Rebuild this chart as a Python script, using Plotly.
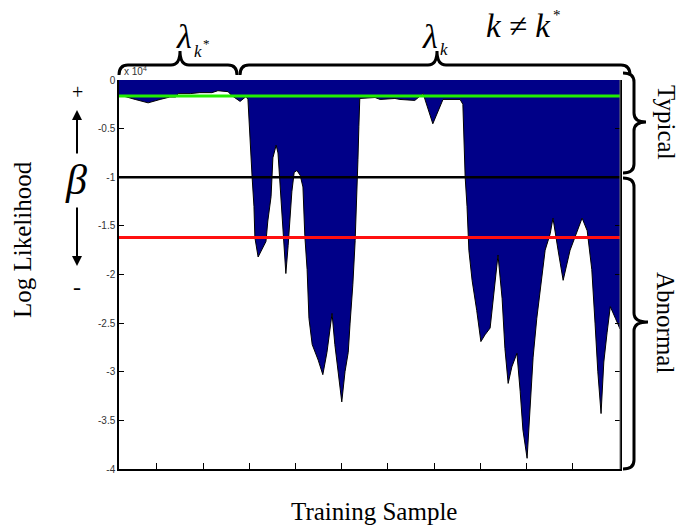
import plotly.graph_objects as go

# Training-sample index and log likelihood (in units of 10^4)
sample = [0, 13, 35, 63, 89, 110, 123, 128, 154, 175, 201, 214, 236, 244, 262, 275,
          279, 283, 288, 292, 294, 301, 309, 318, 322, 329, 333, 340, 344, 348, 353,
          357, 361, 366, 370, 374, 379, 385, 392, 398, 402, 407, 411, 418, 431, 441,
          450, 461, 467, 474, 482, 489, 496, 500, 506, 511, 515, 517, 519, 521, 554,
          565, 597, 608, 640, 658, 679, 701, 738, 744, 749, 753, 757, 764, 774, 783,
          792, 803, 820, 829, 835, 842, 850, 861, 868, 874, 883, 889, 896, 904, 911,
          922, 933, 939, 950, 961, 976, 991, 1002, 1013, 1023, 1030, 1036, 1043, 1049,
          1056, 1063, 1074, 1082, 1084]
loglik = [-0.165, -0.17, -0.2, -0.235, -0.2, -0.175, -0.175, -0.14, -0.14, -0.13,
          -0.13, -0.11, -0.12, -0.16, -0.22, -0.17, -0.2, -0.6, -1.0, -1.3, -1.62,
          -1.82, -1.74, -1.66, -1.45, -1.2, -0.8, -0.67, -0.75, -1.05, -1.45, -1.7,
          -1.99, -1.7, -1.45, -1.15, -0.95, -0.93, -0.98, -1.1, -1.6, -1.95, -2.45,
          -2.72, -2.88, -3.03, -2.8, -2.4, -2.72, -3.0, -3.31, -3.0, -2.8, -2.5, -2.1,
          -1.65, -1.2, -0.82, -0.48, -0.19, -0.18, -0.2, -0.19, -0.2, -0.21, -0.14,
          -0.45, -0.2, -0.2, -0.25, -1.0, -1.3, -1.75, -2.06, -2.37, -2.69, -2.62,
          -2.55, -1.8, -2.25, -2.76, -3.12, -2.95, -2.81, -3.2, -3.6, -3.89, -3.4,
          -2.85, -2.45, -2.16, -1.75, -1.58, -1.42, -1.75, -2.06, -1.75, -1.55, -1.42,
          -1.55, -1.95, -2.5, -3.0, -3.43, -2.9, -2.6, -2.33, -2.45, -2.55, -2.56]

# Decision thresholds (units of 10^4)
typical_level = -0.165
beta_level = -1.0
abnormal_level = -1.62

y_tick_vals = [0, -0.5, -1, -1.5, -2, -2.5, -3, -3.5, -4]
y_tick_text = ["0", "-0.5", "-1", "-1.5", "-2", "-2.5", "-3", "-3.5", "-4"]
x_tick_vals = [82, 182, 282, 382, 482, 582, 682, 782, 882, 982]

W, H = 686, 529
L, R, T, B = 119, 620, 80, 469

SERIF = "Times New Roman, Liberation Serif, serif"
SANS = "Arial, Liberation Sans, sans-serif"


def px(x):
    return (x - L) / (R - L)


def py(y):
    return (B - y) / (B - T)


def pt(x, y):
    return f"{px(x):.5f},{py(y):.5f}"


def hbrace(x0, x1, xm, y_end, y_body, y_tip, r=9):
    return (f"M {pt(x0, y_end)} Q {pt(x0, y_body)} {pt(x0 + r, y_body)} "
            f"L {pt(xm - r, y_body)} Q {pt(xm, y_body)} {pt(xm, y_tip)} "
            f"Q {pt(xm, y_body)} {pt(xm + r, y_body)} "
            f"L {pt(x1 - r, y_body)} Q {pt(x1, y_body)} {pt(x1, y_end)}")


def vbrace(y0, y1, ym, x_end, x_body, x_tip, r=9):
    return (f"M {pt(x_end, y0)} Q {pt(x_body, y0)} {pt(x_body, y0 + r)} "
            f"L {pt(x_body, ym - r)} Q {pt(x_body, ym)} {pt(x_tip, ym)} "
            f"Q {pt(x_body, ym)} {pt(x_body, ym + r)} "
            f"L {pt(x_body, y1 - r)} Q {pt(x_body, y1)} {pt(x_end, y1)}")


fig = go.Figure()
fig.add_trace(go.Scatter(
    x=sample, y=loglik, mode="lines", fill="tozeroy",
    fillcolor="#000088", line=dict(color="black", width=1),
    hoverinfo="skip", showlegend=False))

fig.add_hline(y=typical_level, line=dict(color="#22ee00", width=3))
fig.add_hline(y=beta_level, line=dict(color="black", width=2.5))
fig.add_hline(y=abnormal_level, line=dict(color="#ff1010", width=3))

brace_style = dict(type="path", xref="paper", yref="paper",
                   line=dict(color="black", width=3), layer="above")
fig.add_shape(path=hbrace(119, 237, 180, 75, 65, 51), **brace_style)
fig.add_shape(path=hbrace(240, 630, 437, 75, 65, 51), **brace_style)
fig.add_shape(path=vbrace(73, 173, 122, 623, 634, 646), **brace_style)
fig.add_shape(path=vbrace(178, 469, 322, 623, 634, 648), **brace_style)


def label(x, y, text, size, family=SERIF, angle=0, color="black", xanchor="center",
          yanchor="middle"):
    fig.add_annotation(x=px(x), y=py(y), xref="paper", yref="paper", text=text,
                       showarrow=False, textangle=angle, xanchor=xanchor,
                       yanchor=yanchor, font=dict(family=family, size=size, color=color))


# brace labels
label(184, 36, "<i>λ</i>", 34)
label(198, 52, "<i>k</i>", 17)
label(206, 43, "*", 13)
label(430, 36, "<i>λ</i>", 34)
label(444, 49, "<i>k</i>", 17)
label(518, 26, "<i>k</i> ≠ <i>k</i>", 33)
label(557, 15, "*", 15)
label(666, 122, "Typical", 25, angle=90)
label(666, 322, "Abnormal", 25, angle=90)

# axis titles
label(23, 240, "Log Likelihood", 25, angle=-90)
label(374, 511, "Training Sample", 25)

# beta direction marker
label(76, 180, "<i>β</i>", 42)
label(77, 92, "+", 20)
label(77, 287, "-", 24)
fig.add_annotation(x=px(77), y=py(110), xref="paper", yref="paper", ax=0, ay=45,
                   text="", showarrow=True, arrowhead=2, arrowsize=1, arrowwidth=2,
                   arrowcolor="black")
fig.add_annotation(x=px(77), y=py(266), xref="paper", yref="paper", ax=0, ay=-60,
                   text="", showarrow=True, arrowhead=2, arrowsize=1, arrowwidth=2,
                   arrowcolor="black")

# exponent multiplier
label(122, 79, "x 10<sup>4</sup>", 10, family=SANS, color="#333333", xanchor="left",
      yanchor="bottom")

fig.update_layout(
    width=W, height=H, margin=dict(l=L, r=W - R, t=T, b=H - B),
    paper_bgcolor="white", plot_bgcolor="white", showlegend=False,
    xaxis=dict(range=[0, 1084], tickvals=x_tick_vals, showticklabels=False,
               ticks="inside", ticklen=6, tickcolor="black", showgrid=False,
               zeroline=False, showline=True, linecolor="black", linewidth=1.5,
               mirror=False),
    yaxis=dict(range=[-4, 0], tickvals=y_tick_vals, ticktext=y_tick_text,
               ticks="inside", ticklen=5, tickcolor="black", showgrid=False,
               zeroline=False, showline=True, linecolor="black", linewidth=1.5,
               mirror="ticks", tickfont=dict(family=SANS, size=10, color="#333333")),
)
fig.add_shape(type="line", xref="paper", yref="paper", x0=1, x1=1, y0=0, y1=1,
              line=dict(color="#777777", width=1), layer="above")

fig.write_html("out.html")
